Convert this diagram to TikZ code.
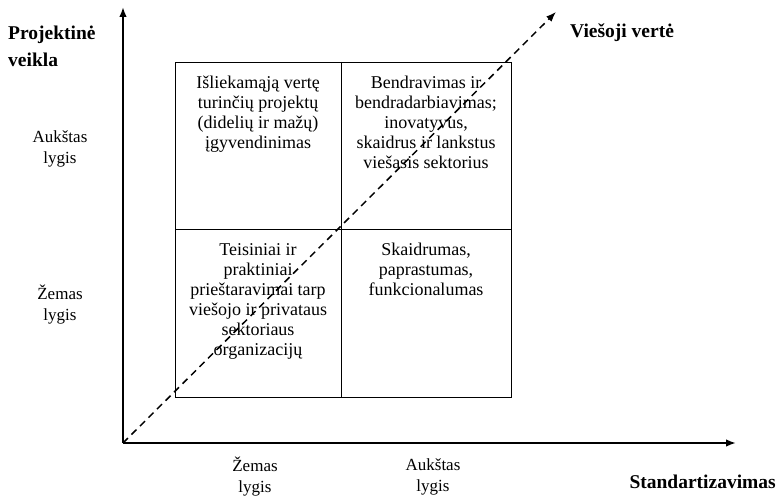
\documentclass[tikz,border=0pt]{standalone}
\usepackage{fontspec}
\setmainfont{Liberation Serif}
\usetikzlibrary{arrows.meta}

\begin{document}
\begin{tikzpicture}[
    x=1pt, y=-1pt,
    axis/.style={-{Latex[length=10pt,width=7.5pt]}, line width=1.6pt},
    value/.style={-{Latex[length=10pt,width=7.5pt]}, line width=1.5pt, dash pattern=on 7pt off 5pt},
    cell/.style={line width=0.8pt},
    celltext/.style={anchor=north, align=center, inner sep=0pt, font=\fontsize{18}{20}\selectfont},
    level/.style={align=center, inner sep=0pt, font=\fontsize{17}{21}\selectfont},
    title/.style={align=left, inner sep=0pt, font=\fontsize{19.5}{27}\selectfont\bfseries}
  ]
  \useasboundingbox (0,0) rectangle (780,497);

  \coordinate (o) at (123,443);
  \coordinate (ytop) at (123,7);
  \coordinate (xend) at (736,443);
  \coordinate (vend) at (556,12);

  % Quadrants
  \draw[cell] (175,62) rectangle (511,397);
  \draw[cell] (341,62) -- (341,397);
  \draw[cell] (175,229) -- (511,229);

  \node[celltext] (q1) at (258,76) {Išliekamąją vertę\\turinčių projektų\\(didelių ir mažų)\\įgyvendinimas};
  \node[celltext] (q2) at (426,76) {Bendravimas ir\\bendradarbiavimas;\\inovatyvus,\\skaidrus ir lankstus\\viešasis sektorius};
  \node[celltext] (q3) at (258,243) {Teisiniai ir\\praktiniai\\prieštaravimai tarp\\viešojo ir privataus\\sektoriaus\\organizacijų};
  \node[celltext] (q4) at (426,243) {Skaidrumas,\\paprastumas,\\funkcionalumas};

  % Axes
  \draw[axis] (o) -- (ytop);
  \draw[axis] (o) -- (xend);
  \draw[value] (o) -- (vend);

  % Axis titles
  \node[title, anchor=west] (py) at (8,46) {Projektinė\\veikla};
  \node[title, anchor=west] (vv) at (570,33) {Viešoji vertė};
  \node[title, anchor=east] (st) at (776,482) {Standartizavimas};

  % Levels
  \node[level] (yhigh) at (60,149) {Aukštas\\lygis};
  \node[level] (ylow) at (60,305) {Žemas\\lygis};
  \node[level] (xlow) at (255,477) {Žemas\\lygis};
  \node[level] (xhigh) at (433,477) {Aukštas\\lygis};
\end{tikzpicture}
\end{document}
